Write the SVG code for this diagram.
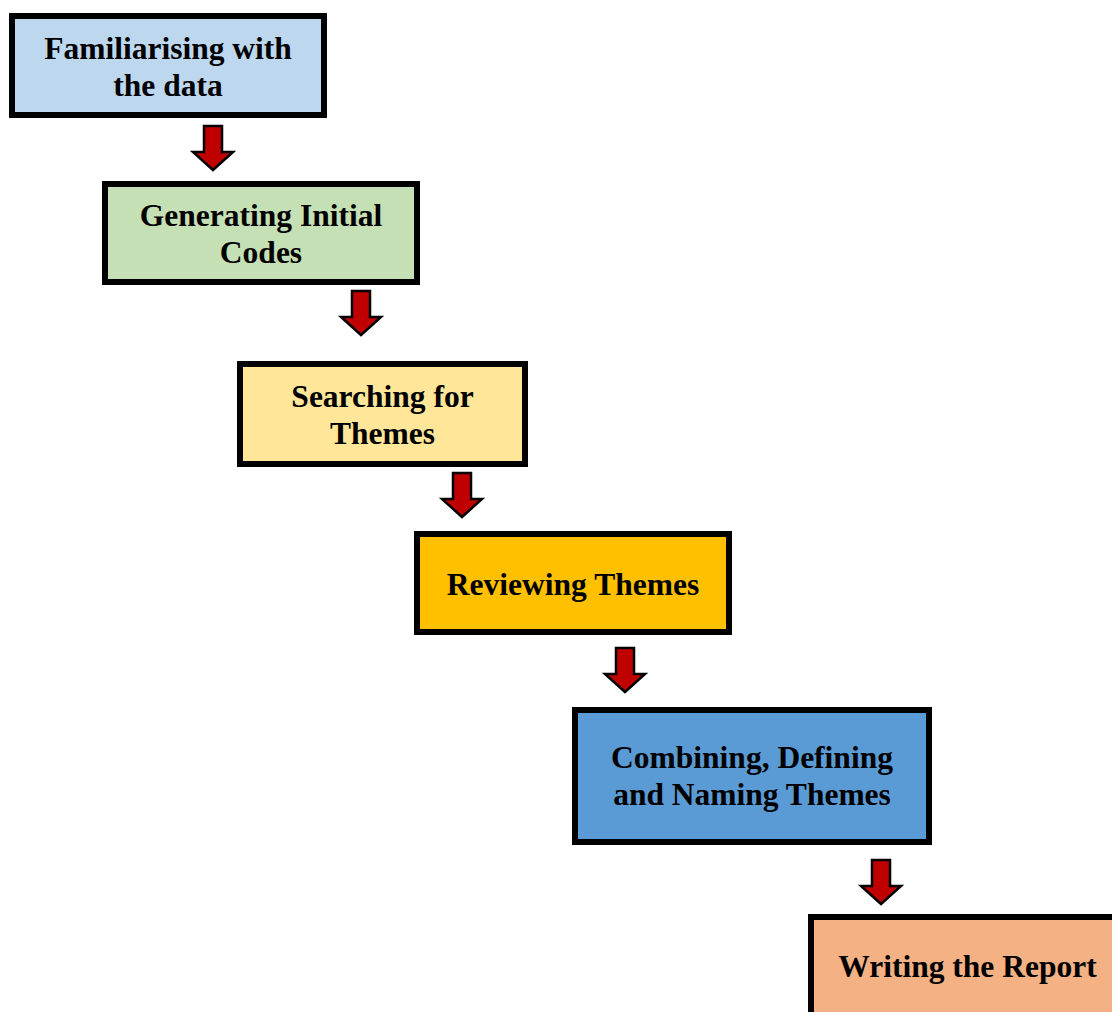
<svg xmlns="http://www.w3.org/2000/svg" width="1112" height="1012" viewBox="0 0 1112 1012">
  <style>
    .box { stroke: #000; stroke-width: 6; }
    .label { font-family: "Liberation Serif", "Times New Roman", serif; font-weight: bold; font-size: 31.5px; fill: #000; text-anchor: middle; }
    .arrow { fill: #C00000; stroke: #000; stroke-width: 2.5; stroke-linejoin: miter; }
  </style>
  <defs>
    <!-- block down-arrow, origin at top centre of the shaft -->
    <polygon id="down" class="arrow" points="-9,0 9,0 9,26 20,26 0,44 -20,26 -9,26"/>
  </defs>
  <rect width="1112" height="1012" fill="#fff"/>

  <g id="connectors">
    <use href="#down" x="213" y="126"/>
    <use href="#down" x="361" y="291"/>
    <use href="#down" x="462" y="473"/>
    <use href="#down" x="625" y="648"/>
    <use href="#down" x="881" y="860"/>
  </g>

  <g id="familiarising">
    <rect class="box" x="12" y="16" width="312" height="99" fill="#BDD7EE"/>
    <text class="label" x="168" y="59">Familiarising with</text>
    <text class="label" x="168" y="96">the data</text>
  </g>

  <g id="generating">
    <rect class="box" x="105" y="184" width="312" height="98" fill="#C5E0B4"/>
    <text class="label" x="261" y="226">Generating Initial</text>
    <text class="label" x="261" y="263">Codes</text>
  </g>

  <g id="searching">
    <rect class="box" x="240" y="364" width="285" height="100" fill="#FFE699"/>
    <text class="label" x="382.5" y="407">Searching for</text>
    <text class="label" x="382.5" y="444">Themes</text>
  </g>

  <g id="reviewing">
    <rect class="box" x="417" y="534" width="312" height="98" fill="#FFC000"/>
    <text class="label" x="573" y="595">Reviewing Themes</text>
  </g>

  <g id="defining">
    <rect class="box" x="575" y="710" width="354" height="132" fill="#5B9BD5"/>
    <text class="label" x="752" y="768">Combining, Defining</text>
    <text class="label" x="752" y="805">and Naming Themes</text>
  </g>

  <g id="report">
    <rect class="box" x="811" y="917" width="320" height="120" fill="#F4B183"/>
    <text class="label" x="967.5" y="977">Writing the Report</text>
  </g>
</svg>
